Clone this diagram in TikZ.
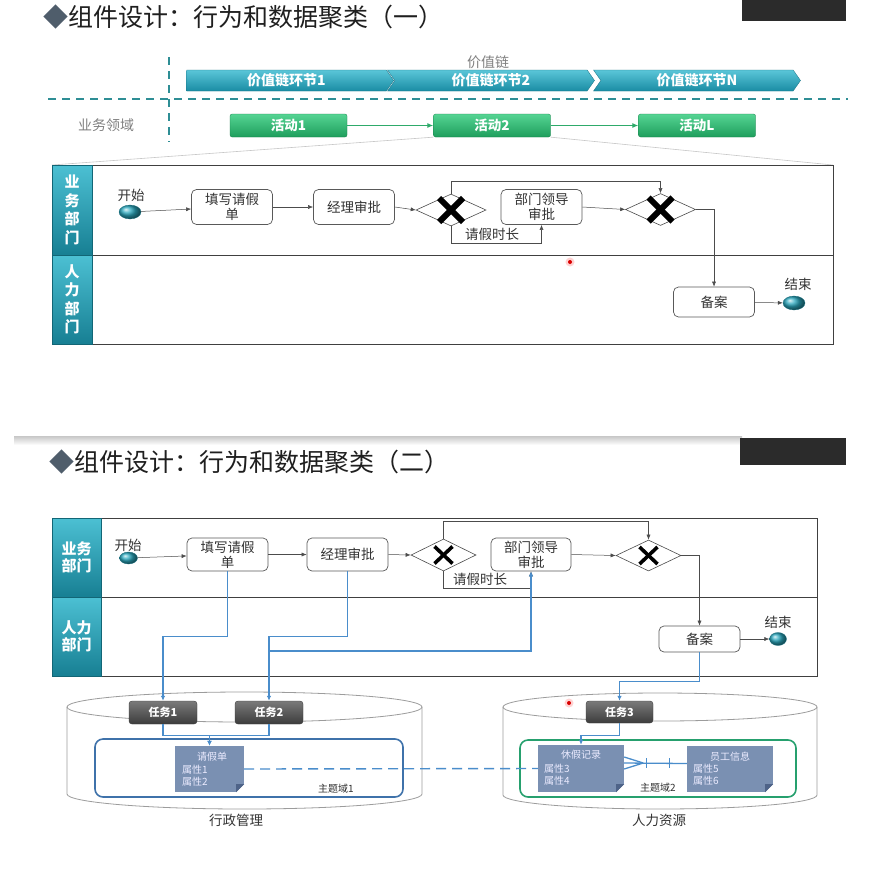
\documentclass[tikz,border=0pt]{standalone}
\usepackage{fontspec}
\setmainfont{Noto Sans CJK SC}
\usetikzlibrary{shapes.geometric,shapes.symbols,arrows.meta,calc}
\definecolor{tealA}{HTML}{4CC0D3}
\definecolor{tealB}{HTML}{177F93}
\definecolor{chevA}{HTML}{5AC6D8}
\definecolor{chevB}{HTML}{1A8CA4}
\definecolor{greenA}{HTML}{55D493}
\definecolor{greenB}{HTML}{1E9E5C}
\definecolor{greenL}{HTML}{2EAA6A}
\definecolor{dashT}{HTML}{2E8E95}
\definecolor{blueL}{HTML}{4A8DCB}
\definecolor{entC}{HTML}{7A90B2}
\definecolor{entD}{HTML}{4E6388}
\definecolor{taskA}{HTML}{7A7A7A}
\definecolor{taskB}{HTML}{3C3C3C}
\definecolor{evtc}{HTML}{2BA9BF}
\definecolor{diam}{HTML}{4F5D6B}
\definecolor{domA}{HTML}{3F72AA}
\definecolor{domB}{HTML}{26A06E}
\definecolor{cylC}{HTML}{9C9C9C}
\definecolor{ovl}{HTML}{2B2B2B}
\newcommand\fsz[2]{\fontsize{#1pt}{#2pt}\selectfont}
\tikzset{
 proc/.style={draw=black!65, line width=0.7pt, rounded corners=5pt, fill=white,
   minimum width=81pt, minimum height=35pt, align=center, inner sep=1pt,
   text=black!80, font=\fsz{13.5}{15}},
 gate/.style={diamond, draw=black!70, line width=0.6pt, fill=white,
   minimum width=70pt, minimum height=32pt, inner sep=0pt},
 xmA/.style={line width=6pt, black},
 xmB/.style={line width=3.6pt, black},
 evt/.style={ellipse, minimum width=22pt, minimum height=14pt, inner sep=0pt,
   ball color=evtc, draw=evtc!70!black, line width=0.3pt},
 flow/.style={draw=black!70, line width=0.5pt, -{Latex[length=5pt,width=4pt]}},
 bl/.style={draw=blueL, line width=1.4pt, -{Latex[length=5pt,width=4.5pt]}},
 lab/.style={font=\fsz{13.5}{15}, text=black!80, inner sep=0pt},
 gtxt/.style={font=\fsz{14}{16}, text=black!50, inner sep=0pt},
 lanehead/.style={top color=tealA, bottom color=tealB, draw=tealB!80!black,
   line width=0.4pt, inner sep=0pt, text=white, align=center},
 chev/.style={signal, signal to=east, signal pointer angle=110,
   minimum width=207pt, minimum height=21pt, inner sep=0pt,
   top color=chevA, bottom color=chevB, draw=chevB!80!black, line width=0.3pt,
   text=white, font=\bfseries\fsz{14}{16}},
 act/.style={rectangle, rounded corners=2pt, minimum width=117pt, minimum height=23pt,
   inner sep=0pt, top color=greenA, bottom color=greenB, draw=greenB!80!black,
   line width=0.3pt, text=white, font=\bfseries\fsz{13.5}{15}},
 garr/.style={draw=greenL, line width=1.4pt, -{Latex[length=6pt,width=5pt]}},
 tdash/.style={draw=dashT, line width=2pt, dash pattern=on 8pt off 6pt},
 fan/.style={draw=black!22, line width=0.6pt},
 pool/.style={draw=black!75, line width=0.8pt},
 task/.style={rectangle, rounded corners=3pt, minimum width=68pt, minimum height=23pt,
   inner sep=0pt, top color=taskA, bottom color=taskB, draw=taskB,
   text=white, font=\bfseries\fsz{11}{12}},
 ent/.style={rectangle, fill=entC, inner sep=0pt},
 etxt/.style={font=\fsz{10}{11}, text=white!92!blue, inner sep=0pt},
 cyl/.style={draw=cylC, line width=0.8pt},
 small/.style={font=\fsz{10}{11}, text=black!80, inner sep=0pt},
 ttl/.style={anchor=west, inner sep=0pt, font=\fsz{25}{27}, text=black!88},
}
\begin{document}
\begin{tikzpicture}[x=1pt,y=-1pt]
\useasboundingbox (0,0) rectangle (893,881);
\fill[white] (0,0) rectangle (893,881);

% ================= PART 1 =================
\node[ttl] (t1) at (43,17) {\textcolor{diam}{◆}组件设计：行为和数据聚类（一）};
\node[fill=ovl, minimum width=104pt, minimum height=21pt, inner sep=0pt, anchor=north west] (o1) at (742,0) {};

\coordinate (vt) at (169,57); \coordinate (vb) at (169,142);
\coordinate (hl) at (48,99);  \coordinate (hr) at (848,99);
\draw[tdash] (vt) -- (vb);
\draw[tdash] (hl) -- (hr);
\node[gtxt] (vc) at (488,62) {价值链};
\node[chev] (c1) at (286.5,80.5) {价值链环节1};
\node[chev, signal from=west] (c2) at (491,80.5) {价值链环节2};
\node[chev, signal from=west] (c3) at (697,80.5) {价值链环节N};
\node[gtxt] (bd) at (106,125) {业务领域};
\node[act] (a1) at (288.5,125.5) {活动1};
\node[act] (a2) at (492,125.5) {活动2};
\node[act] (a3) at (697,125.5) {活动L};
\draw[garr] (a1) -- (a2);
\draw[garr] (a2) -- (a3);

\coordinate (pl1) at (52,165); \coordinate (pr1) at (833,165);
\draw[fan] (a2.south west) -- (pl1);
\draw[fan] (a2.south east) -- (pr1);

\draw[pool, fill=white] (52,165) rectangle (833,344);
\draw[pool] (92,255) -- (833,255);
\node[lanehead, minimum width=40pt, minimum height=90pt, font=\bfseries\fsz{15}{18.5}] (h1) at (72,210) {业\\务\\部\\门};
\node[lanehead, minimum width=40pt, minimum height=89pt, font=\bfseries\fsz{15}{18.5}] (h2) at (72,299.5) {人\\力\\部\\门};

\node[evt] (s1) at (130,212) {};
\node[lab] (s1l) at (131,195) {开始};
\node[proc] (p1a) at (232,207) {填写请假\\单};
\node[proc] (p1b) at (354,207) {经理审批};
\node[gate] (g1a) at (451,210) {};
\node[proc] (p1c) at (541.5,207) {部门领导\\审批};
\node[gate] (g1b) at (660.5,209.5) {};
\node[proc, minimum height=30pt] (p1d) at (714,302) {备案};
\node[evt] (e1) at (794,303) {};
\node[lab] (e1l) at (798,284) {结束};
\node[lab] (q1) at (492,234) {请假时长};

\draw[flow] (s1) -- (p1a);
\draw[flow] (p1a) -- (p1b);
\draw[flow] (p1b.east) -- (g1a.west);
\draw[flow] (g1a.north) -- ++(0,-12) -| (g1b.north);
\draw[flow] (g1a.south) -- ++(0,17) -| (p1c.south);
\draw[flow] (p1c.east) -- (g1b.west);
\draw[flow] (g1b.east) -| (p1d.north);
\draw[flow] (p1d) -- (e1);
\foreach \g in {g1a,g1b}{
  \draw[xmA] ($(\g)+(-12,-12)$) -- ($(\g)+(12,12)$);
  \draw[xmA] ($(\g)+(-12,12)$) -- ($(\g)+(12,-12)$);
}
\fill[red!25, opacity=0.7] (570,262) circle[radius=4.5pt];
\fill[red!85!black] (570,262) circle[radius=2pt];

% separator
\shade[top color=black!22, bottom color=white] (14,436) rectangle (742,445);

% ================= PART 2 =================
\node[fill=ovl, minimum width=106pt, minimum height=27pt, inner sep=0pt, anchor=north west] (o2) at (740,438) {};
\node[ttl] (t2) at (49,462) {\textcolor{diam}{◆}组件设计：行为和数据聚类（二）};

\draw[pool, fill=white] (52,518) rectangle (817,676);
\draw[pool] (101,597) -- (817,597);
\node[lanehead, minimum width=49pt, minimum height=79pt, font=\bfseries\fsz{15}{17}] (h3) at (76.5,557.5) {业务\\部门};
\node[lanehead, minimum width=49pt, minimum height=79pt, font=\bfseries\fsz{15}{17}] (h4) at (76.5,636.5) {人力\\部门};

\node[evt, minimum width=18pt, minimum height=12pt] (s2) at (128.5,558) {};
\node[lab] (s2l) at (128,545) {开始};
\node[proc, minimum height=33pt] (p2a) at (227.5,554.5) {填写请假\\单};
\node[proc, minimum height=33pt] (p2b) at (347.5,554.5) {经理审批};
\node[gate, minimum width=65pt, minimum height=32pt] (g2a) at (443.5,555) {};
\node[proc, minimum height=33pt, minimum width=80pt] (p2c) at (531,554.5) {部门领导\\审批};
\node[gate, minimum width=65pt, minimum height=31pt] (g2b) at (648.5,555.5) {};
\node[proc, minimum height=26pt] (p2d) at (699.5,639) {备案};
\node[evt, minimum width=17pt, minimum height=13pt] (e2) at (778,639) {};
\node[lab] (e2l) at (778,622) {结束};
\node[lab] (q2) at (480,579) {请假时长};

\draw[flow] (s2) -- (p2a);
\draw[flow] (p2a) -- (p2b);
\draw[flow] (p2b.east) -- (g2a.west);
\draw[flow] (g2a.north) -- ++(0,-17) -| (g2b.north);
\draw[flow] (g2a.south) -- ++(0,17) -| (p2c.south);
\draw[flow] (p2c.east) -- (g2b.west);
\draw[flow] (g2b.east) -| (p2d.north);
\draw[flow] (p2d) -- (e2);
\foreach \g in {g2a,g2b}{
  \draw[xmB] ($(\g)+(-9,-8.5)$) -- ($(\g)+(9,8.5)$);
  \draw[xmB] ($(\g)+(-9,8.5)$) -- ($(\g)+(9,-8.5)$);
}

% cylinders
\draw[cyl] (244.5,707) ellipse [x radius=177.5pt, y radius=15pt];
\draw[cyl] (67,707) -- (67,794) arc[start angle=180, end angle=360, x radius=177.5pt, y radius=15pt] -- (422,707);
\draw[cyl] (660,707) ellipse [x radius=157pt, y radius=14pt];
\draw[cyl] (503,707) -- (503,795) arc[start angle=180, end angle=360, x radius=157pt, y radius=14pt] -- (817,707);
\node[lab] (cy1) at (236,820) {行政管理};
\node[lab] (cy2) at (659,820) {人力资源};

\draw[domA, line width=1.6pt, rounded corners=8pt] (95,739) rectangle (403,797);
\draw[domB, line width=1.6pt, rounded corners=8pt] (520,740) rectangle (796,797);
\node[small] (d1) at (336,789) {主题域1};
\node[small] (d2) at (658,788) {主题域2};

\node[task] (tk1) at (163,712.5) {任务1};
\node[task] (tk2) at (269,712.5) {任务2};
\node[task, minimum width=67pt, minimum height=22pt] (tk3) at (619.5,712) {任务3};

\node[ent, minimum width=69pt, minimum height=46pt] (en1) at (209.5,769) {};
\node[ent, minimum width=86pt, minimum height=47pt] (en2) at (581,768.5) {};
\node[ent, minimum width=86pt, minimum height=46pt] (en3) at (730,769) {};
\foreach \e in {en1,en2,en3}{
  \fill[white] ([xshift=-8pt]\e.south east) -- ([yshift=8pt]\e.south east) -- (\e.south east) -- cycle;
  \fill[entD] ([xshift=-8pt]\e.south east) -- ([yshift=8pt]\e.south east) -- ([xshift=-8pt,yshift=8pt]\e.south east) -- cycle;
}
\node[etxt] (en1t) at (212,757) {请假单};
\node[etxt, anchor=west] (en1a) at (182,770) {属性1};
\node[etxt, anchor=west] (en1b) at (182,782) {属性2};
\node[etxt] (en2t) at (581,755) {休假记录};
\node[etxt, anchor=west] (en2a) at (544,769) {属性3};
\node[etxt, anchor=west] (en2b) at (544,781) {属性4};
\node[etxt] (en3t) at (730,757) {员工信息};
\node[etxt, anchor=west] (en3a) at (693,769) {属性5};
\node[etxt, anchor=west] (en3b) at (693,781) {属性6};

% blue connectors
\coordinate (j2) at (269,651);
\draw[bl] (p2a.south) -- ++(0,65) -| (tk1.north);
\draw[bl] (p2b.south) -- ++(0,65) -| (tk2.north);
\draw[bl] (j2) -| (p2c.south);
\draw[bl] (p2d.south) -- ++(0,29) -| (tk3.north);
\draw[bl] (tk1.south) -- ++(0,11) -| (en1.north);
\draw[bl] (tk2.south) -- ++(0,11) -| (en1.north);
\draw[bl] (tk3.south) -- ++(0,12) -| (en2.north);
\draw[blueL, line width=1.4pt, dash pattern=on 10pt off 6pt] (en1.east) -- (en2.west);

% ER relation
\draw[blueL, line width=1.3pt] ([yshift=5.5pt]en2.east) -- ([yshift=5.5pt]en3.west);
\coordinate (cf) at ($(en2.east)+(19,-5.5)$);
\draw[blueL, line width=1.3pt] (cf) -- ([yshift=11.5pt]en2.east);
\draw[blueL, line width=1.3pt] (cf) -- ([yshift=-0.5pt]en2.east);
\draw[blueL, line width=1.3pt] ($(en2.east)+(22,-10.5)$) -- ++(0,10);
\draw[blueL, line width=1.3pt] ($(en2.east)+(45,-10.5)$) -- ++(0,10);

\fill[red!25, opacity=0.7] (569,703) circle[radius=4.5pt];
\fill[red!85!black] (569,703) circle[radius=2pt];
\end{tikzpicture}
\end{document}
